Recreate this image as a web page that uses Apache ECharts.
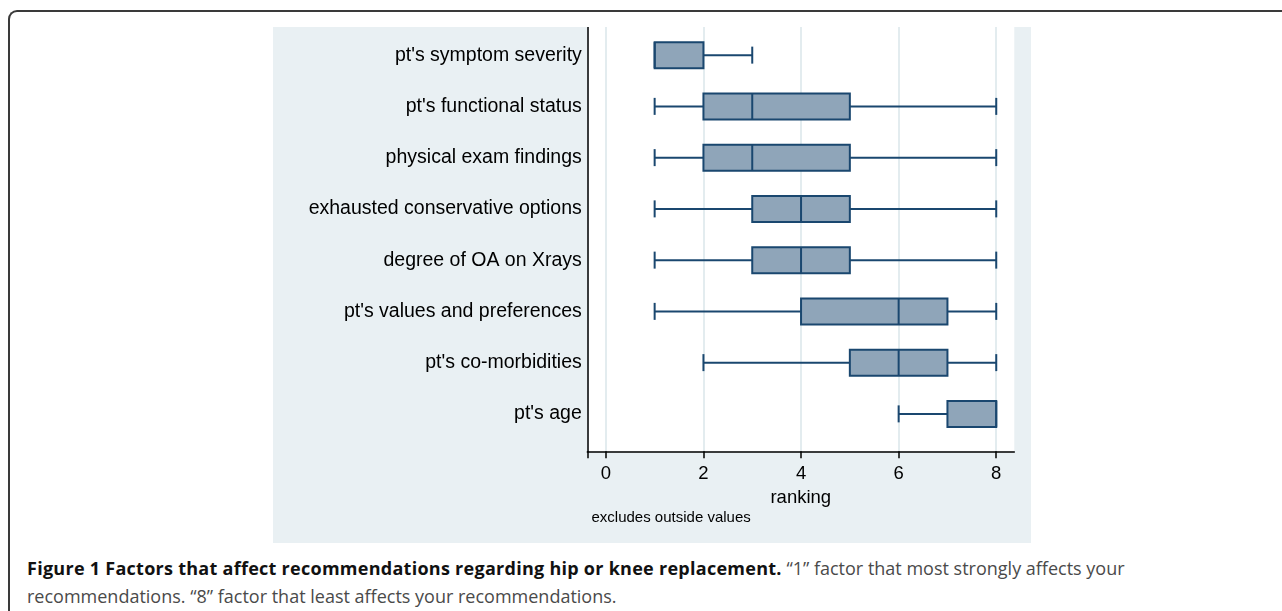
<!DOCTYPE html>
<html>
<head>
<meta charset="utf-8">
<script src="https://cdn.jsdelivr.net/npm/echarts@6/dist/echarts.min.js"></script>
<style>
  html, body { margin: 0; padding: 0; background: #fff; width: 1282px; height: 611px; overflow: hidden; }
  .frame {
    position: absolute; left: 8px; top: 10px; width: 1400px; height: 700px;
    border-left: 2px solid #3a3a3a; border-top: 2px solid #3a3a3a;
    border-top-left-radius: 9px;
  }
  #chart {
    position: absolute; left: 273px; top: 27px; width: 758px; height: 516px;
    background: #e9f0f3;
  }
  .caption {
    position: absolute; left: 27px; top: 554px; white-space: nowrap;
    font-family: "Open Sans", sans-serif; font-size: 18px; line-height: 28px; color: #4a4a4a;
  }
  .caption b { color: #111; letter-spacing: 0.27px; }
</style>
</head>
<body>
<div class="frame"></div>
<div id="chart"></div>
<div class="caption"><b>Figure 1 Factors that affect recommendations regarding hip or knee replacement.</b> “1” factor that most strongly affects your<br>recommendations. “8” factor that least affects your recommendations.</div>

<script>
/* ===== data ===== */
const factors = [
  "pt's symptom severity",
  "pt's functional status",
  "physical exam findings",
  "exhausted conservative options",
  "degree of OA on Xrays",
  "pt's values and preferences",
  "pt's co-morbidities",
  "pt's age",
];
const mins    = [1, 1, 1, 1, 1, 1, 2, 6];
const q1s     = [1, 2, 2, 3, 3, 4, 5, 7];
const medians = [1, 3, 3, 4, 4, 6, 6, 8];
const q3s     = [2, 5, 5, 5, 5, 7, 7, 8];
const maxs    = [3, 8, 8, 8, 8, 8, 8, 8];
const xTickLabels = [0, 2, 4, 6, 8];
const xMin = -0.38;
const xMax = 8.37;

/* ===== styles ===== */
const FONT = '"Liberation Sans", Arial, sans-serif';
const NAVY = "#1a476f";
const FILL = "#8fa5b9";

const boxData = factors.map((f, i) => [i, mins[i], q1s[i], medians[i], q3s[i], maxs[i]]);

const chart = echarts.init(document.getElementById("chart"), null, { renderer: "canvas" });

chart.setOption({
  animation: false,
  grid: [
    // boxes + category labels
    { left: 314.3, top: 2.5, width: 427, height: 410, show: false },
    // visible frame: white plot area, x axis, y axis line
    { left: 314.3, top: 0, width: 427, height: 424.3, show: true, backgroundColor: "#fff", borderWidth: 0 },
  ],
  xAxis: [
    { gridIndex: 0, type: "value", min: xMin, max: xMax, show: false },
    {
      gridIndex: 1, type: "value", min: xMin, max: xMax,
      axisLine: { show: true, onZero: false, lineStyle: { color: "#000", width: 1.5 } },
      axisTick: { show: true, length: 7, customValues: [xMin].concat(xTickLabels), lineStyle: { color: "#000", width: 1.5 } },
      axisLabel: { customValues: xTickLabels, fontSize: 18.5, color: "#000", fontFamily: FONT, margin: 13 },
      splitLine: { show: true, lineStyle: { color: "#e3ecef", width: 2 } },
      name: "ranking", nameLocation: "middle", nameGap: 28,
      nameTextStyle: { fontSize: 18.5, color: "#000", fontFamily: FONT },
    },
  ],
  yAxis: [
    {
      gridIndex: 0, type: "category", data: factors, inverse: true,
      axisLine: { show: false }, axisTick: { show: false }, splitLine: { show: false },
      axisLabel: { fontSize: 19.5, color: "#000", fontFamily: FONT, margin: 5.5 },
    },
    {
      gridIndex: 1, type: "value", min: 0, max: 1,
      axisLine: { show: true, onZero: false, lineStyle: { color: "#000", width: 1.5 } },
      axisTick: { show: false }, axisLabel: { show: false }, splitLine: { show: false },
    },
  ],
  graphic: [
    {
      type: "text", left: 318.5, top: 483,
      style: { text: "excludes outside values", fontSize: 15, fill: "#000", font: "15px " + FONT },
    },
  ],
  series: [
    {
      type: "custom",
      xAxisIndex: 0, yAxisIndex: 0,
      data: boxData,
      encode: { x: [1, 2, 3, 4, 5], y: 0 },
      z: 10,
      renderItem: (params, api) => {
        const cat = api.value(0);
        const pMin = api.coord([api.value(1), cat]);
        const pQ1 = api.coord([api.value(2), cat]);
        const pMed = api.coord([api.value(3), cat]);
        const pQ3 = api.coord([api.value(4), cat]);
        const pMax = api.coord([api.value(5), cat]);
        const y = pMed[1];
        const hb = 13;   // half box height
        const hc = 8.5;  // half cap height
        const line = { stroke: NAVY, lineWidth: 2 };
        const children = [];
        if (pMin[0] < pQ1[0]) {
          children.push({ type: "line", shape: { x1: pMin[0], y1: y, x2: pQ1[0], y2: y }, style: line });
          children.push({ type: "line", shape: { x1: pMin[0], y1: y - hc, x2: pMin[0], y2: y + hc }, style: line });
        }
        if (pMax[0] > pQ3[0]) {
          children.push({ type: "line", shape: { x1: pQ3[0], y1: y, x2: pMax[0], y2: y }, style: line });
          children.push({ type: "line", shape: { x1: pMax[0], y1: y - hc, x2: pMax[0], y2: y + hc }, style: line });
        }
        children.push({
          type: "rect",
          shape: { x: pQ1[0], y: y - hb, width: pQ3[0] - pQ1[0], height: hb * 2 },
          style: { fill: FILL, stroke: NAVY, lineWidth: 2 },
        });
        children.push({ type: "line", shape: { x1: pMed[0], y1: y - hb, x2: pMed[0], y2: y + hb }, style: line });
        return { type: "group", children };
      },
    },
  ],
});
</script>
</body>
</html>
